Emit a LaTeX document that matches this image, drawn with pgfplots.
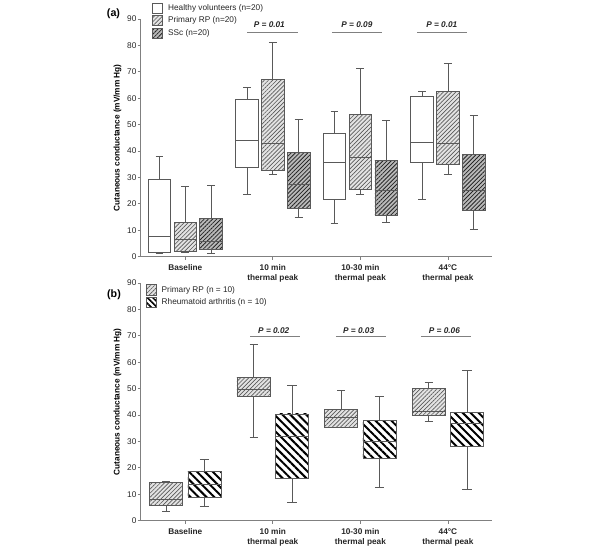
\documentclass[border=0pt]{standalone}
\usepackage{pgfplots}
\pgfplotsset{compat=1.18}
\usepgfplotslibrary{statistics}
\usetikzlibrary{patterns.meta}
\usepackage{fontspec}
\setmainfont{Liberation Sans}
\newcommand\fs{\fontsize{6.2}{7.5}\selectfont}
\definecolor{bline}{gray}{0.35}
\pgfplotsset{
 panel/.style={
  scale only axis, width=263.25pt, height=178.3pt,
  xmin=0.49, xmax=4.5, ymin=0, ymax=90,
  axis x line*=bottom, axis y line*=left,
  axis line style={-, gray, line width=0.6pt},
  ytick={0,10,...,90}, xtick={1,2,3,4},
  xticklabels={Baseline,{10 min\\thermal peak},{10-30 min\\thermal peak},{44°C\\thermal peak}},
  xticklabel style={align=center, font=\fs\bfseries, text=black!85},
  yticklabel style={font=\fs, text=black!85, inner sep=0.8pt},
  /pgf/number format/assume math mode=true,
  tick align=outside, major tick length=2.2pt, tick style={gray, line width=0.6pt},
  ylabel={Cutaneous conductance (mV/mm Hg)},
  ylabel style={font=\fs\bfseries, at={(axis description cs:-0.066,0.5)}, anchor=center},
  clip=false,
  boxplot/draw direction=y,
 },
 hv/.style={draw=bline, line width=0.6pt, boxplot/box extend=0.257, boxplot/whisker extend=0.09,
   boxplot/every box/.style={fill=white}},
 pr/.style={draw=bline, line width=0.6pt, boxplot/box extend=#1, boxplot/whisker extend=0.09,
   boxplot/every box/.style={preaction={fill=gray!22}, pattern={Lines[angle=45,distance=2.2pt,line width=0.5pt]}, pattern color=gray!70!black}},
 ss/.style={draw=bline, line width=0.6pt, boxplot/box extend=0.257, boxplot/whisker extend=0.09,
   boxplot/every box/.style={preaction={fill=gray!55}, pattern={Lines[angle=45,distance=2.2pt,line width=0.6pt]}, pattern color=black!85}},
 ra/.style={draw=bline, line width=0.6pt, boxplot/box extend=0.38, boxplot/whisker extend=0.11,
   boxplot/every box/.style={preaction={fill=white}, pattern={Lines[angle=-45,distance=4.2pt,line width=1.5pt]}, pattern color=black}},
}
\newcommand\bx[7]{\addplot[#1, boxplot prepared={draw position=#2, lower whisker=#3, lower quartile=#4, median=#5, upper quartile=#6, upper whisker=#7}] coordinates {};}
\newcommand\pval[6]{\draw[gray, line width=0.7pt] (axis cs:#2,#4) -- (axis cs:#3,#4);
  \node[font=\fs\bfseries\itshape, text=black!85] at (axis cs:#1,#5) {\textit{P} = #6};}
\begin{document}
\begin{tikzpicture}
\path[use as bounding box] (0,0) rectangle (450pt,414pt);
% ---------- panel (a)
\begin{axis}[panel, at={(105.5pt,221.5pt)}, anchor=south west]
\bx{hv}{0.705}{1.2}{1.5}{7.6}{29.4}{38.1}
\bx{pr=0.257}{1}{1.6}{2.0}{6.4}{13.0}{26.5}
\bx{ss}{1.295}{1.3}{2.8}{5.6}{14.6}{26.8}
\bx{hv}{1.705}{23.6}{33.7}{43.9}{59.6}{64.0}
\bx{pr=0.257}{2}{31.3}{32.7}{42.9}{67.0}{81.2}
\bx{ss}{2.295}{14.8}{18.4}{27.5}{39.5}{52.0}
\bx{hv}{2.705}{12.6}{21.7}{35.7}{46.8}{55.0}
\bx{pr=0.257}{3}{23.6}{25.6}{37.5}{53.9}{71.1}
\bx{ss}{3.295}{12.9}{15.5}{25.0}{36.5}{51.5}
\bx{hv}{3.705}{21.7}{35.7}{43.3}{60.5}{62.7}
\bx{pr=0.257}{4}{31.2}{35.1}{42.9}{62.7}{73.1}
\bx{ss}{4.295}{10.5}{17.4}{25.1}{38.8}{53.5}
\pval{1.96}{1.71}{2.29}{85}{87.7}{0.01}
\pval{2.96}{2.675}{3.247}{85}{87.7}{0.09}
\pval{3.93}{3.65}{4.22}{85}{87.7}{0.01}
\end{axis}
% ---------- panel (b)
\begin{axis}[panel, at={(105.5pt,23.5pt)}, anchor=south west]
\bx{pr=0.38}{0.78}{3.5}{5.8}{7.9}{14.5}{14.8}
\bx{ra}{1.22}{5.3}{8.8}{13.8}{18.8}{23.2}
\bx{pr=0.38}{1.78}{31.6}{47.0}{49.8}{54.2}{66.8}
\bx{ra}{2.22}{6.8}{15.9}{31.8}{40.4}{51.2}
\bx{pr=0.38}{2.78}{35.2}{35.3}{39.1}{42.2}{49.3}
\bx{ra}{3.22}{12.5}{23.6}{29.9}{38.0}{46.9}
\bx{pr=0.38}{3.78}{37.6}{39.7}{41.5}{50.1}{52.3}
\bx{ra}{4.22}{11.9}{28.1}{36.8}{40.9}{56.9}
\pval{2.01}{1.74}{2.31}{69.6}{72.1}{0.02}
\pval{2.98}{2.72}{3.29}{69.6}{72.1}{0.03}
\pval{3.96}{3.69}{4.26}{69.6}{72.1}{0.06}
\end{axis}
% ---------- panel labels and legends
\node[font=\fontsize{8}{9}\selectfont\bfseries] at (85.1pt,404pt) {(a)};
\node[font=\fontsize{8}{9}\selectfont\bfseries] at (85.5pt,192.75pt) {(b)};
\begin{scope}[line width=0.6pt]
\draw[bline, fill=white] (114.2pt,403.9pt) rectangle ++(7.8pt,7.8pt);
\draw[bline, preaction={fill=gray!22}, pattern={Lines[angle=45,distance=2.2pt,line width=0.5pt]}, pattern color=gray!70!black] (114.2pt,394.6pt) rectangle ++(7.8pt,7.8pt);
\draw[bline, preaction={fill=gray!55}, pattern={Lines[angle=45,distance=2.2pt,line width=0.6pt]}, pattern color=black!85] (114.2pt,385.1pt) rectangle ++(7.8pt,7.8pt);
\node[font=\fs, anchor=west, text=black!85, inner sep=0pt] at (125.8pt,407.8pt) {Healthy volunteers (n=20)};
\node[font=\fs, anchor=west, text=black!85, inner sep=0pt] at (125.8pt,398.5pt) {Primary RP (n=20)};
\node[font=\fs, anchor=west, text=black!85, inner sep=0pt] at (125.8pt,389pt) {SSc (n=20)};
\draw[bline, preaction={fill=gray!22}, pattern={Lines[angle=45,distance=2.2pt,line width=0.5pt]}, pattern color=gray!70!black] (109.6pt,192.6pt) rectangle ++(7.8pt,7.8pt);
\draw[bline, preaction={fill=white}, pattern={Lines[angle=-45,distance=3pt,line width=1.2pt]}, pattern color=black] (109.6pt,183.4pt) rectangle ++(7.8pt,7.8pt);
\node[font=\fs, anchor=west, text=black!85, inner sep=0pt] at (121pt,196.5pt) {Primary RP (n = 10)};
\node[font=\fs, anchor=west, text=black!85, inner sep=0pt] at (121pt,187.3pt) {Rheumatoid arthritis (n = 10)};
\end{scope}
\end{tikzpicture}
\end{document}
